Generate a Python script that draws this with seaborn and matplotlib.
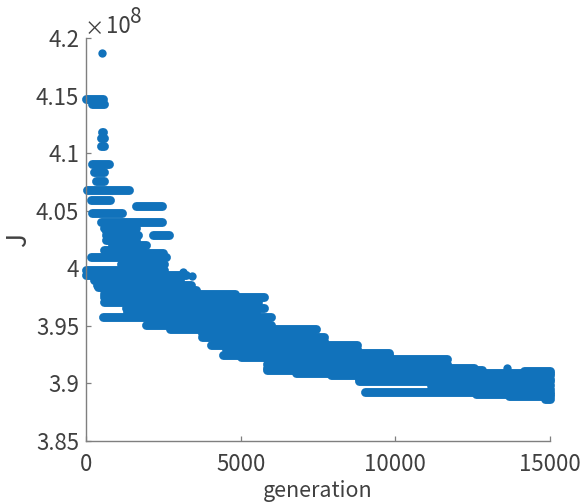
import numpy as np
import pandas as pd
import matplotlib
matplotlib.use("Agg")
import matplotlib.pyplot as plt
import seaborn as sns

# Runs of equal J: first generation, last generation, J (x 1e8)
run_start = [0, 194, 517, 485, 485, 194, 258, 323, 32, 161, 1615, 194, 485, 581, 646, 2164, 646, 840, 581,
             161, 1130, 0, 0, 258, 355, 581, 581, 581, 581, 1292, 1324, 549, 1938, 2713, 3747, 3747, 4522,
             4037, 4522, 4522, 4425, 5006, 5846, 5846, 5846, 5846, 6783, 14147, 7914, 8818, 8818, 11144,
             11144, 9012, 12597, 13663, 14826, 646, 840, 1000, 260, 400]
run_end = [550, 581, 550, 581, 581, 743, 581, 581, 1389, 775, 2455, 1163, 2455, 1615, 1680, 2681, 1615, 1938, 1777,
           2584, 2519, 2519, 3230, 3036, 3392, 3553, 4813, 5749, 5555, 5749, 5491, 5975, 5975, 7429, 6654, 7687, 7687,
           8753, 8753, 9787, 9787, 9787, 11660, 11660, 12532, 12791, 15000, 15000, 15000, 15000, 15000, 15000,
           15000, 15000, 15000, 15000, 15000, 1600, 1700, 2500, 3000, 3300]
run_J = [4.1470, 4.1427, 4.1184, 4.1132, 4.1063, 4.0906, 4.0837, 4.0759, 4.0676, 4.0594, 4.0544, 4.0481, 4.0403,
         4.0351, 4.0290, 4.0290, 4.0247, 4.0203, 4.0160, 4.0099, 4.0038, 3.9986, 3.9943, 3.9899, 3.9856, 3.9813,
         3.9778, 3.9752, 3.9708, 3.9656, 3.9622, 3.9578, 3.9509, 3.9474, 3.9439, 3.9405, 3.9370, 3.9335, 3.9301,
         3.9266, 3.9248, 3.9231, 3.9214, 3.9170, 3.9136, 3.9118, 3.9092, 3.9110, 3.9075, 3.9040, 3.9023, 3.8988,
         3.8953, 3.8927, 3.8910, 3.8893, 3.8867, 4.0320, 4.0180, 4.0130, 3.9920, 3.9835]

# Isolated generations
point_gen = [520, 3133, 3424, 13598]
point_J = [4.1874, 3.9969, 3.9934, 3.9136]

x_ticks = [0, 5000, 10000, 15000]
y_ticks = [3.85, 3.9, 3.95, 4.0, 4.05, 4.1, 4.15, 4.2]
y_tick_labels = ["3.85", "3.9", "3.95", "4", "4.05", "4.1", "4.15", "4.2"]

BLUE = "#1172bb"
INK = "#404040"
GREY = "#7f7f7f"

sns.set_theme(style="white")
plt.rcParams["font.family"] = ["Noto Sans CJK JP", "DejaVu Sans"]

runs = pd.DataFrame({
    "run": np.repeat(np.arange(len(run_J)), 2),
    "generation": np.column_stack([run_start, run_end]).ravel(),
    "J": np.repeat(run_J, 2),
})
points = pd.DataFrame({"generation": point_gen, "J": point_J})

fig = plt.figure(figsize=(5.84, 5.04), dpi=100)
ax = fig.add_axes([86 / 584, 1 - 441 / 504, 464 / 584, 403 / 504])

sns.lineplot(data=runs, x="generation", y="J", units="run", estimator=None, sort=False, ax=ax,
             color=BLUE, linewidth=6.4, solid_capstyle="round", legend=False, clip_on=False)
sns.scatterplot(data=points, x="generation", y="J", ax=ax, color=BLUE, s=36, linewidth=0,
                legend=False, clip_on=False)

ax.set_xlim(0, 15000)
ax.set_ylim(3.85, 4.2)
ax.set_xticks(x_ticks)
ax.set_yticks(y_ticks)
ax.set_yticklabels(y_tick_labels)
ax.tick_params(axis="both", direction="in", length=3.6, width=0.9, color=GREY,
               labelsize=16, labelcolor=INK, left=True, bottom=True)
ax.tick_params(axis="x", pad=8.5)
ax.tick_params(axis="y", pad=5)
sns.despine(ax=ax)
for side in ("left", "bottom"):
    ax.spines[side].set_color(GREY)
    ax.spines[side].set_linewidth(1.0)

ax.set_xlabel("generation", fontsize=15.5, color=INK, labelpad=3)
ax.set_ylabel("J", fontsize=19, color=INK, labelpad=3)

fig.text(85 / 584, 1 - 35 / 504, "\u00d7", fontsize=14, color=INK, ha="left", va="baseline")
fig.text(106 / 584, 1 - 33 / 504, "10", fontsize=16, color=INK, ha="left", va="baseline")
fig.text(130 / 584, 1 - 23 / 504, "8", fontsize=15, color=INK, ha="left", va="baseline")

fig.savefig("out.png", dpi=100)
